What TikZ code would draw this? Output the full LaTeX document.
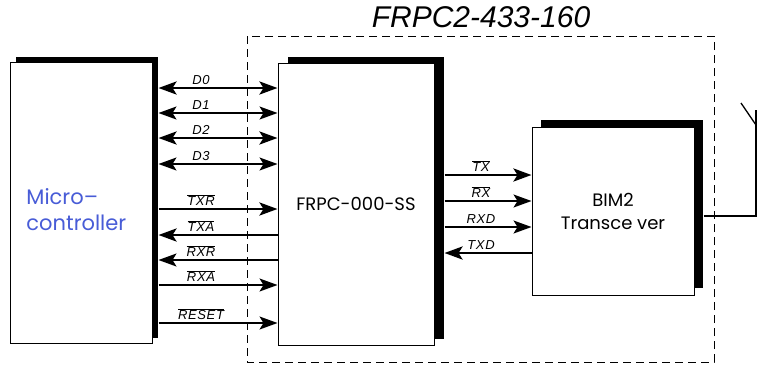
\documentclass[tikz,border=0pt]{standalone}
\usepackage{fontspec}
\setmainfont{Liberation Sans}
\newfontfamily\boxfont{Poppins}
\usetikzlibrary{arrows.meta,shadows}
\definecolor{mcblue}{RGB}{72,92,215}
\tikzset{
  blk/.style={draw, fill=white, line width=1pt, inner sep=0pt, font=\boxfont\fontsize{18}{23}\selectfont},
  sig/.style={line width=1.3pt},
  bus/.style={line width=2.8pt},
  bi/.style={{Stealth[length=18pt,width=13pt,inset=4pt]}-{Stealth[length=18pt,width=13pt,inset=4pt]}},
  fw/.style={-{Stealth[length=18pt,width=13pt,inset=4pt]}},
  bk/.style={{Stealth[length=18pt,width=13pt,inset=4pt]}-},
  lbl/.style={font=\itshape\fontsize{13}{15}\selectfont\addfontfeature{LetterSpace=5}, inner sep=1pt, anchor=south},
  frame/.style={draw, line width=0.9pt, dash pattern=on 8pt off 5pt},
  title/.style={font=\itshape\fontsize{30}{34}\selectfont, inner sep=0pt}
}
\newcommand{\ovl}[1]{$\overline{\mbox{#1}}$}

\begin{document}
\begin{tikzpicture}[x=1pt, y=-1pt]
\useasboundingbox (0,0) rectangle (764,365);
% module boundary
\draw[frame] (247,36) rectangle (714,362);
\node[title] (ttl) at (481,17) {FRPC2-433-160};
% blocks
\node[blk, minimum width=142pt, minimum height=281pt, general shadow={fill=black, shadow xshift=6pt, shadow yshift=5pt}] (mc) at (81,202.5) {};
\node[blk, font=\boxfont\fontsize{21}{26}\selectfont, text=mcblue, draw=none, fill=none, align=left, anchor=west] (mctxt) at (26,210) {Micro–\\controller};
\node[blk, minimum width=156pt, minimum height=282pt, general shadow={fill=black, shadow xshift=10pt, shadow yshift=6pt}] (frpc) at (356,204) {FRPC-000-SS};
\node[blk, align=center, minimum width=162pt, minimum height=168pt, general shadow={fill=black, shadow xshift=9pt, shadow yshift=7pt}] (bim) at (613,211) {BIM2\\Transce ver};
% host side
\foreach \y/\txt/\d/\w [count=\i] in {88/D0/bi/bus, 113/D1/bi/sig, 138/D2/bi/bus, 164/D3/bi/sig,
    209/\ovl{TXR}/fw/bus, 235/\ovl{TXA}/bk/bus, 260/\ovl{RXR}/bk/sig, 285/\ovl{RXA}/fw/sig, 323/\ovl{RESET}/fw/sig} {
  \coordinate (h\i) at (0,\y);
  \draw[\w, \d, shorten <=6pt] (mc.east |- h\i) -- (frpc.west |- h\i);
  \node[lbl] (hl\i) at (201,\y-2) {\txt};
}
% radio side
\foreach \y/\txt/\d/\w [count=\i] in {175/\ovl{TX}/fw/bus, 201/\ovl{RX}/fw/sig, 227/RXD/fw/sig, 253/TXD/bk/bus} {
  \coordinate (r\i) at (0,\y);
  \draw[\w, \d, shorten <=10pt] (frpc.east |- r\i) -- (bim.west |- r\i);
  \node[lbl] (rl\i) at (481,\y-2) {\txt};
}
% antenna
\coordinate (antfoot) at (756,216);
\coordinate (anttop) at (756,110);
\coordinate (antarm) at (741,103);
\draw[sig, shorten <=9pt] (bim.east |- antfoot) -- (antfoot) -- (anttop);
\draw[sig] (antarm) -- (756,125);
\end{tikzpicture}
\end{document}
